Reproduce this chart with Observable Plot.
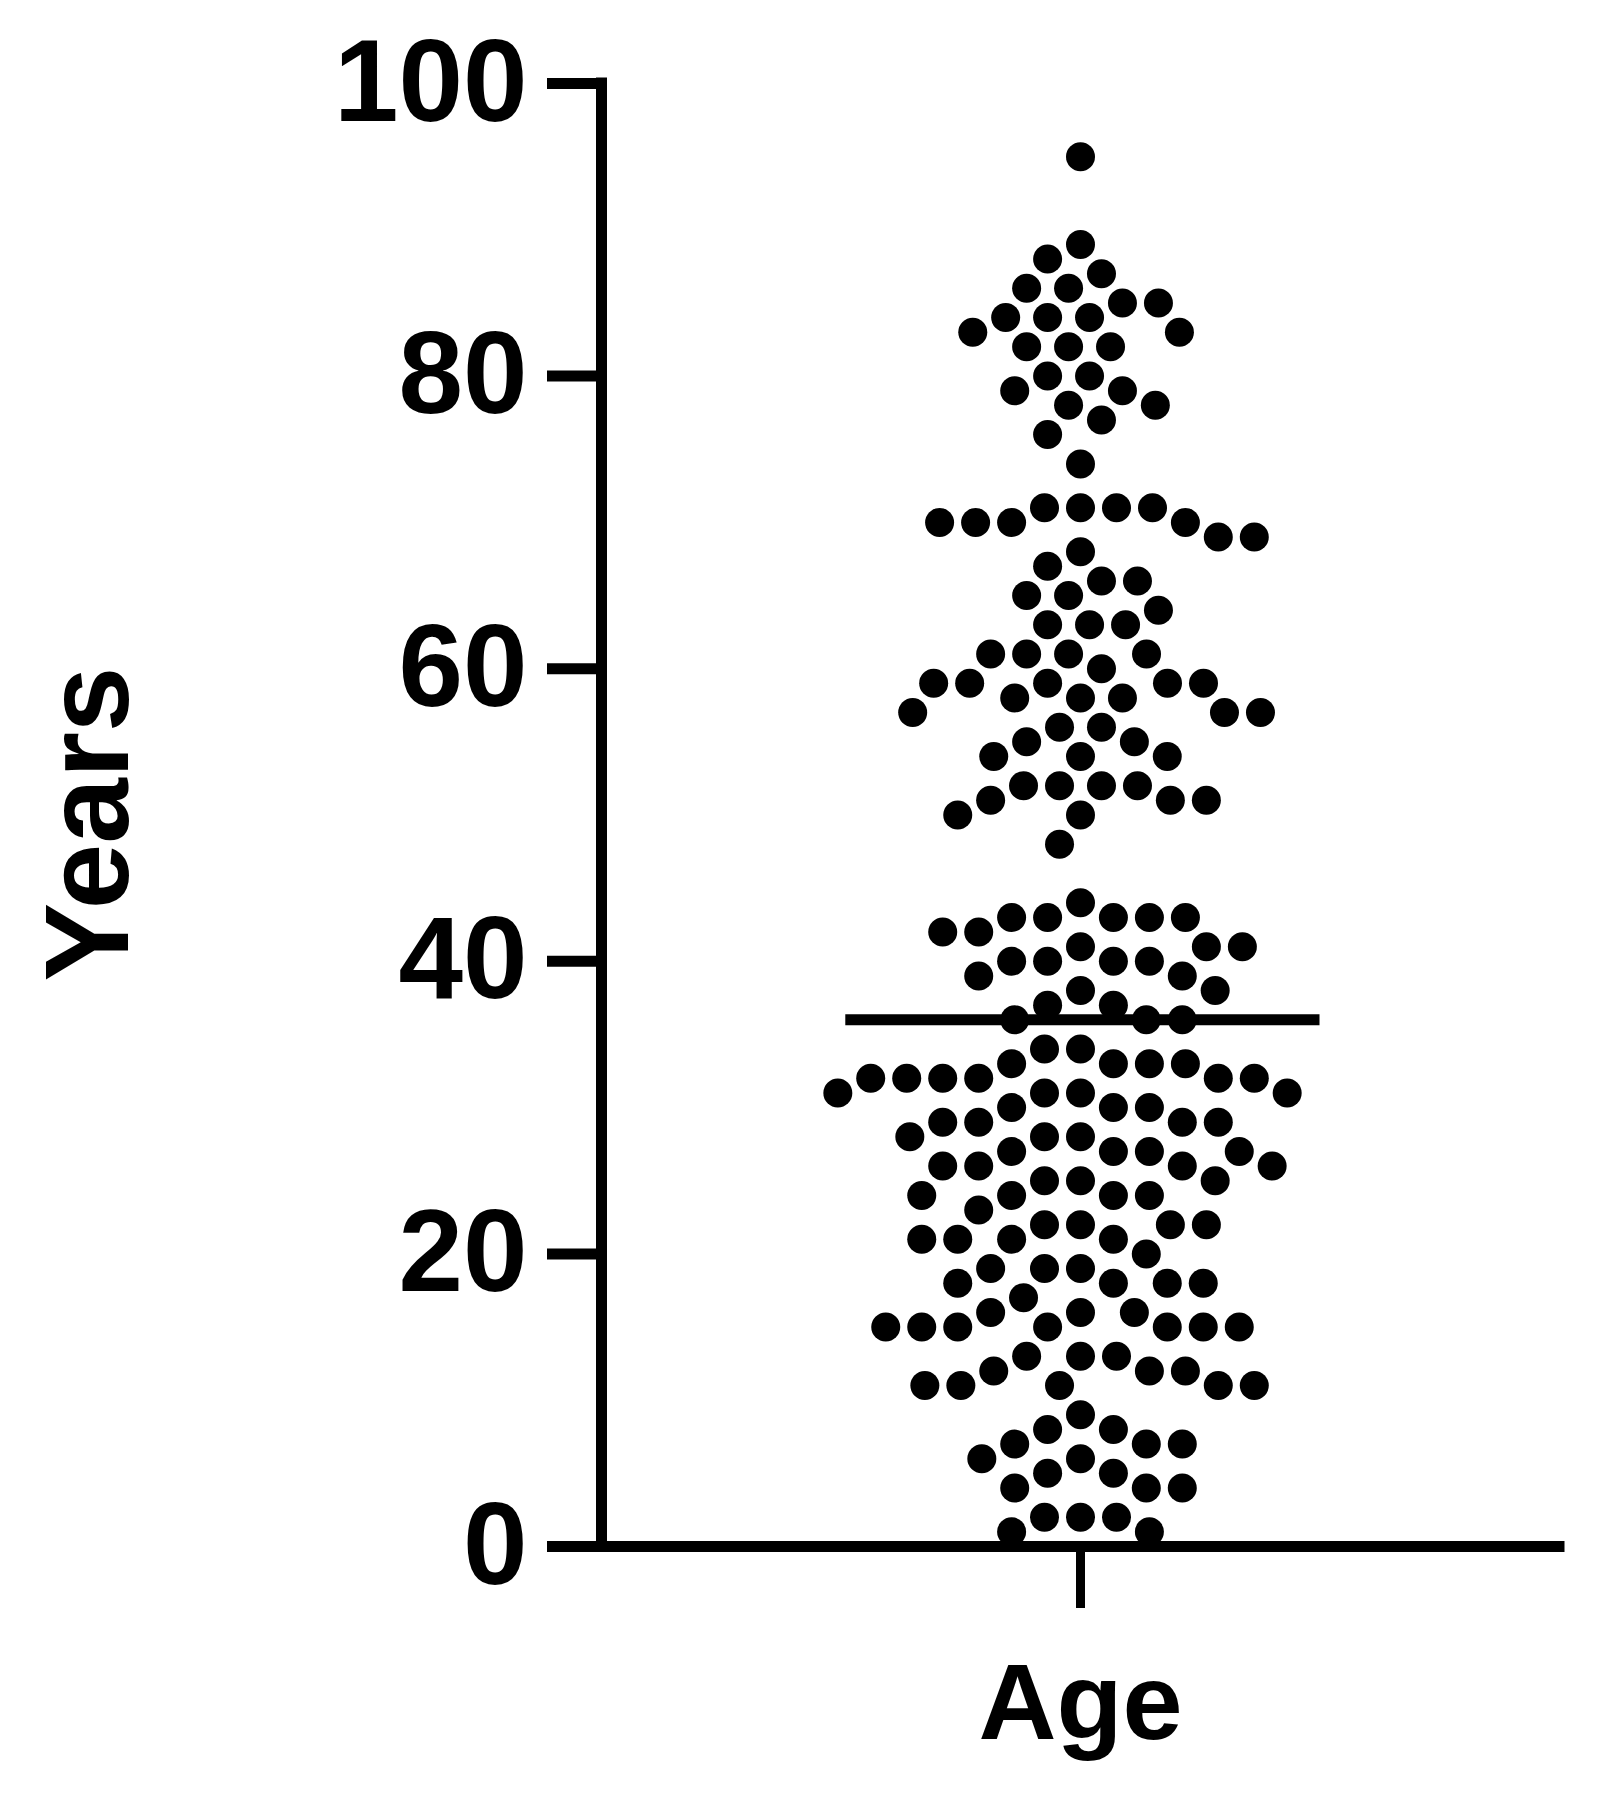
<!DOCTYPE html>
<html>
<head>
<meta charset="utf-8">
<script src="https://cdn.jsdelivr.net/npm/d3@7"></script>
<script src="https://cdn.jsdelivr.net/npm/@observablehq/plot@0.6"></script>
<style>
  html, body { margin: 0; padding: 0; background: #fff; }
  #chart svg { display: block; }
</style>
</head>
<body>
<div id="chart"></div>
<script>
// Category and axis text
const categories = ["Age"];
const yLabel = "Years";
const yTicks = [0, 20, 40, 60, 80, 100];

// Individual ages (years), top to bottom
const ages = [
  95, 89, 88, 87, 86, 86, 85, 85, 84, 84, 84, 83, 83, 82, 82, 82, 80, 80, 79, 79, 78, 78, 77, 76, 74,
  71, 71, 71, 71, 70, 70, 70, 70, 69, 69, 68, 67, 66, 66, 65, 65, 64, 63, 63, 63, 61, 61, 61, 61, 60,
  59, 59, 59, 59, 59, 58, 58, 58, 57, 57, 57, 56, 56, 55, 55, 54, 54, 54, 52, 52, 52, 52, 51, 51, 51, 50, 50, 48,
  44, 43, 43, 43, 43, 43, 42, 42, 41, 41, 41, 40, 40, 40, 40, 39, 39, 38, 38, 37, 37, 36, 36, 36,
  34, 34, 33, 33, 33, 33, 32, 32, 32, 32, 32, 32, 31, 31, 31, 31, 30, 30, 30, 29, 29, 29, 29,
  28, 28, 28, 27, 27, 27, 27, 26, 26, 26, 26, 25, 25, 25, 24, 24, 24, 24, 23,
  22, 22, 22, 22, 21, 21, 21, 21, 20, 19, 19, 19, 18, 18, 18, 18, 17, 16, 16, 16,
  15, 15, 15, 15, 15, 15, 15, 13, 13, 13, 12, 12, 12, 11, 11, 11, 11, 11,
  9, 8, 8, 7, 7, 7, 6, 6, 5, 5, 4, 4, 4, 2, 2, 2, 1, 1
];

const median = d3.median(ages);
const FONT = "'Liberation Sans', Arial, Helvetica, sans-serif";

const chart = Plot.plot({
  width: 1604,
  height: 1795,
  marginLeft: 601,
  marginRight: 45,
  marginTop: 83,
  marginBottom: 249,
  style: {fontFamily: FONT, fontWeight: "bold", color: "#000", background: "#fff"},
  x: {type: "linear", domain: [-1, 1], axis: null},
  y: {domain: [0, 100], axis: null},
  marks: [
    // y axis line
    Plot.ruleX([-1], {stroke: "#000", strokeWidth: 11, strokeLinecap: "square"}),
    // x axis line
    Plot.ruleY([0], {stroke: "#000", strokeWidth: 11, strokeLinecap: "square"}),
    Plot.axisY({
      ticks: yTicks,
      tickSize: 54,
      tickPadding: 20,
      strokeWidth: 11,
      fontSize: 116,
      fontWeight: "bold",
      label: null
    }),
    Plot.axisX({
      ticks: [0],
      tickFormat: () => categories[0],
      tickSize: 62,
      tickPadding: 54,
      strokeWidth: 9,
      fontSize: 108,
      fontWeight: "bold",
      label: null
    }),
    Plot.text([yLabel], {
      frameAnchor: "left",
      textAnchor: "middle",
      lineAnchor: "middle",
      rotate: -90,
      dx: -511,
      dy: 9,
      fontSize: 118,
      fontWeight: "bold",
      fill: "#000"
    }),
    // individual values, beeswarm
    Plot.dot(ages, Plot.dodgeX({anchor: "middle", padding: 7}, {y: d => d, r: 14.5, fill: "#000", stroke: "none"})),
    // median line
    Plot.ruleY([median], {x1: -0.49, x2: 0.5, stroke: "#000", strokeWidth: 11})
  ]
});
document.getElementById("chart").appendChild(chart);
</script>
</body>
</html>
